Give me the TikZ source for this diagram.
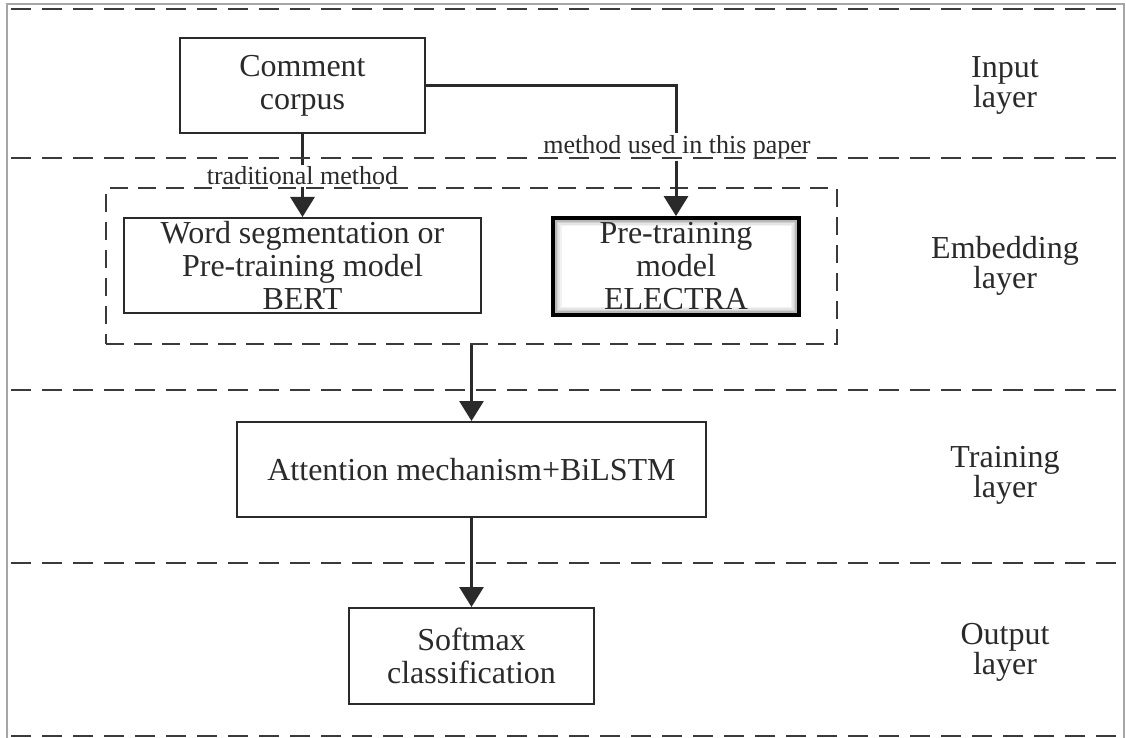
\documentclass[tikz,border=0pt]{standalone}
\usepackage{fontspec}
\setmainfont{Liberation Serif}
\usetikzlibrary{arrows.meta}
\pgfdeclarelayer{background}
\pgfdeclarelayer{paper}
\pgfsetlayers{paper,background,main}
\definecolor{ink}{HTML}{2A2A2A}
\definecolor{rule}{HTML}{3A3A3A}
\tikzset{
  box/.style={draw=ink, line width=1pt, fill=none, align=center, text=ink,
              font=\fontsize{16}{16.5}\selectfont, inner sep=0pt},
  keybox/.style={box, line width=1.9pt, draw=black},
  group/.style={draw=rule, line width=0.9pt, dash pattern=on 9pt off 5pt},
  layerline/.style={draw=rule, line width=1pt, dash pattern=on 10pt off 5.5pt},
  frame/.style={draw=black!35, line width=0.8pt},
  flow/.style={draw=ink, line width=1.5pt, -{Triangle[width=12pt,length=10pt]}},
  tag/.style={text=ink, font=\fontsize{13}{13}\selectfont, fill=white,
              inner sep=1pt},
  layername/.style={text=ink, align=center, font=\fontsize{16}{15}\selectfont}
}
\begin{document}
\begin{tikzpicture}[x=0.5pt, y=-0.5pt]
  \useasboundingbox (0,0) rectangle (1126,738);
  \begin{pgfonlayer}{paper}
    \fill[white] (0,0) rectangle (1126,738);
  \end{pgfonlayer}

  % outer frame
  \draw[frame] (7,738) -- (7,4) -- (1124,4) -- (1124,738);

  % boxes
  \node[box, minimum width=122.5pt, minimum height=47.5pt] (corpus) at (302.5,85.5)
       {Comment\\corpus};
  \node[group, minimum width=365.5pt, minimum height=78pt] (emb) at (471.5,266) {};
  \node[box, minimum width=178.5pt, minimum height=47.5pt] (bert) at (302.5,265.5)
       {Word segmentation or\\Pre-training model\\BERT};
  \node[keybox, minimum width=123pt, minimum height=48.5pt] (electra) at (676,266.5)
       {Pre-training\\model\\ELECTRA};
  \node[box, minimum width=234.5pt, minimum height=47.5pt] (attn) at (471.5,469.5)
       {Attention mechanism+BiLSTM};
  \node[box, minimum width=122.5pt, minimum height=48pt] (soft) at (471.5,656)
       {Softmax\\classification};

  % soft inner shading of the ELECTRA box
  \begin{pgfonlayer}{background}
    \foreach \i/\g in {2/55,3.5/40,5/28,6.5/18,8/10,9.5/5}
      \draw[black!\g, line width=0.9pt]
        ([shift={(\i,\i)}]electra.north west) rectangle ([shift={(-\i,-\i)}]electra.south east);
  \end{pgfonlayer}

  % connectors
  \draw[flow] (corpus.south) -- (bert.north);
  \draw[flow] (corpus.east) -| (electra.north);
  \draw[flow] (emb.south) -- (attn.north);
  \draw[flow] (attn.south) -- (soft.north);

  % connector labels
  \node[tag] (trad) at (302.5,176) {traditional method};
  \node[tag] (ours) at (677,147) {method used in this paper};

  % layer separators
  \foreach \y in {9,158,390,563,736}
    \draw[layerline] (11,\y) -- (1122,\y);

  % layer names
  \node[layername] (lin)  at (1005,85)  {Input\\layer};
  \node[layername] (lemb) at (1005,266) {Embedding\\layer};
  \node[layername] (ltr)  at (1005,475) {Training\\layer};
  \node[layername] (lout) at (1005,652) {Output\\layer};
\end{tikzpicture}
\end{document}
